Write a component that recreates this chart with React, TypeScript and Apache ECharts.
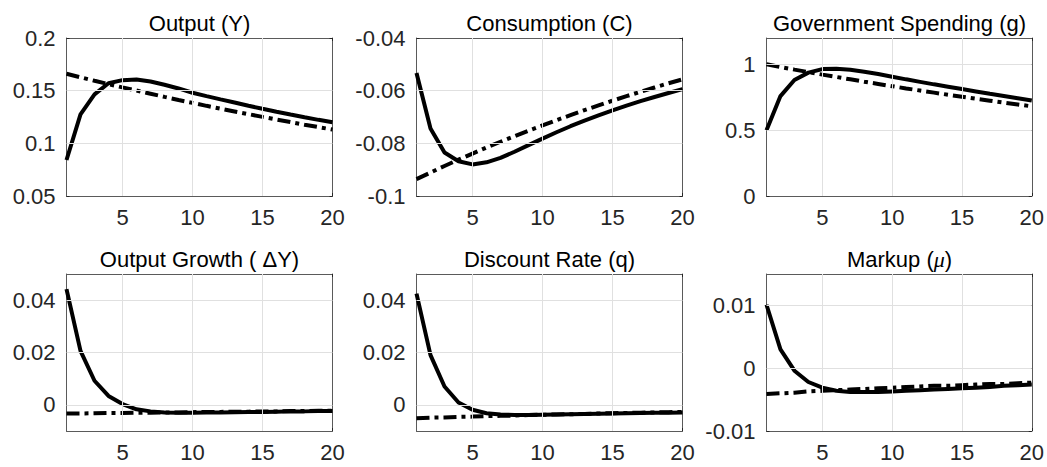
import React, { useEffect, useRef } from "react";
import * as echarts from "echarts";

const periods = [1, 2, 3, 4, 5, 6, 7, 8, 9, 10, 11, 12, 13, 14, 15, 16, 17, 18, 19, 20];
const xTicks = [5, 10, 15, 20];

const outputSolid = [0.0842, 0.1275, 0.1465, 0.157, 0.16, 0.1606, 0.1587, 0.1556, 0.1521, 0.148, 0.1448, 0.1417, 0.1387, 0.1357, 0.1328, 0.13, 0.1273, 0.1247, 0.1223, 0.12];
const outputDashed = [0.166, 0.1627, 0.1594, 0.1562, 0.1531, 0.1501, 0.1471, 0.1441, 0.1412, 0.1384, 0.1356, 0.1329, 0.1303, 0.1277, 0.1251, 0.1226, 0.1202, 0.1177, 0.1154, 0.1131];
const outputTicks = [0.05, 0.1, 0.15, 0.2];

const consumptionSolid = [-0.0533, -0.0744, -0.0835, -0.0868, -0.088, -0.0872, -0.0855, -0.0832, -0.0807, -0.0782, -0.0758, -0.0735, -0.0714, -0.0694, -0.0675, -0.0657, -0.064, -0.0624, -0.0609, -0.0594];
const consumptionDashed = [-0.0936, -0.0911, -0.0886, -0.0862, -0.0839, -0.0816, -0.0794, -0.0773, -0.0752, -0.0732, -0.0712, -0.0693, -0.0674, -0.0656, -0.0638, -0.0621, -0.0604, -0.0588, -0.0572, -0.0557];
const consumptionTicks = [-0.1, -0.08, -0.06, -0.04];

const govSolid = [0.5, 0.759, 0.881, 0.937, 0.964, 0.967, 0.959, 0.944, 0.926, 0.906, 0.886, 0.867, 0.848, 0.83, 0.812, 0.794, 0.776, 0.759, 0.742, 0.725];
const govDashed = [1.0, 0.98, 0.96, 0.941, 0.922, 0.904, 0.886, 0.868, 0.851, 0.834, 0.817, 0.801, 0.785, 0.769, 0.754, 0.739, 0.724, 0.709, 0.695, 0.681];
const govTicks = [0, 0.5, 1];

const growthSolid = [0.0442, 0.0206, 0.0092, 0.0034, 0.0003, -0.0017, -0.0025, -0.0029, -0.003, -0.003, -0.0029, -0.0029, -0.0028, -0.0027, -0.0027, -0.0026, -0.0025, -0.0025, -0.0024, -0.0024];
const growthDashed = [-0.0033, -0.0033, -0.0032, -0.0031, -0.0031, -0.003, -0.003, -0.0029, -0.0029, -0.0028, -0.0027, -0.0027, -0.0026, -0.0026, -0.0025, -0.0025, -0.0024, -0.0024, -0.0023, -0.0023];
const growthTicks = [0, 0.02, 0.04];

const discountSolid = [0.0425, 0.019, 0.007, 0.0009, -0.0019, -0.0032, -0.0037, -0.0039, -0.0039, -0.0038, -0.0037, -0.0036, -0.0035, -0.0034, -0.0033, -0.0032, -0.0031, -0.003, -0.003, -0.0029];
const discountDashed = [-0.0051, -0.0049, -0.0048, -0.0046, -0.0045, -0.0043, -0.0042, -0.0041, -0.0039, -0.0038, -0.0037, -0.0036, -0.0035, -0.0033, -0.0032, -0.0031, -0.003, -0.0029, -0.0028, -0.0027];
const discountTicks = [0, 0.02, 0.04];

const markupSolid = [0.0101, 0.003, -0.0004, -0.0022, -0.0031, -0.0036, -0.0038, -0.0038, -0.0038, -0.0037, -0.0036, -0.0035, -0.0034, -0.0033, -0.0032, -0.0031, -0.003, -0.0028, -0.0027, -0.0026];
const markupDashed = [-0.0041, -0.004, -0.0039, -0.0037, -0.0036, -0.0035, -0.0034, -0.0033, -0.0032, -0.0031, -0.003, -0.0029, -0.0028, -0.0028, -0.0027, -0.0026, -0.0025, -0.0025, -0.0024, -0.0023];
const markupTicks = [-0.01, 0, 0.01];

// "{m|...}" marks the TeX-italic math symbol
const titles = ["Output (Y)", "Consumption (C)", "Government Spending (g)", "Output Growth ( ΔY)", "Discount Rate (q)", "Markup ({m|μ})"];

const panels = [
  { title: titles[0], solid: outputSolid, dashed: outputDashed, yMin: 0.05, yMax: 0.2, yTicks: outputTicks },
  { title: titles[1], solid: consumptionSolid, dashed: consumptionDashed, yMin: -0.1, yMax: -0.04, yTicks: consumptionTicks },
  { title: titles[2], solid: govSolid, dashed: govDashed, yMin: 0, yMax: 1.2, yTicks: govTicks },
  { title: titles[3], solid: growthSolid, dashed: growthDashed, yMin: -0.01, yMax: 0.05, yTicks: growthTicks },
  { title: titles[4], solid: discountSolid, dashed: discountDashed, yMin: -0.01, yMax: 0.05, yTicks: discountTicks },
  { title: titles[5], solid: markupSolid, dashed: markupDashed, yMin: -0.01, yMax: 0.015, yTicks: markupTicks },
];

const FONT = "'Liberation Sans', Arial, Helvetica, sans-serif";

function buildOption() {
  const colLeft = [66.5, 416.5, 766.5];
  const rowTop = [38, 274];
  const rowHeight = [158, 157];
  const titleY = [23, 259.5];
  const width = 266;
  const grids: any[] = [];
  const xAxes: any[] = [];
  const yAxes: any[] = [];
  const series: any[] = [];
  const graphics: any[] = [];
  const boxLine = { show: true, onZero: false, lineStyle: { color: "#5a5a5a", width: 1 } };
  const tickCommon = { show: true, inside: true, length: 3, lineStyle: { color: "#262626", width: 1 } };
  const labelCommon = { color: "#262626", fontSize: 22, fontFamily: FONT, showMinLabel: true, showMaxLabel: true };

  panels.forEach((p, i) => {
    const col = i % 3;
    const row = Math.floor(i / 3);
    const left = colLeft[col];
    const top = rowTop[row];
    const height = rowHeight[row];
    grids.push({ left, top, width, height, show: false });

    xAxes.push({
      type: "value", gridIndex: i, min: 1, max: 20, position: "bottom",
      axisLine: boxLine,
      axisTick: { ...tickCommon, customValues: xTicks },
      axisLabel: { ...labelCommon, customValues: xTicks, margin: 10, formatter: (v: number) => String(v) },
      splitLine: { show: false },
    });
    xAxes.push({
      type: "value", gridIndex: i, min: 1, max: 20, position: "top",
      axisLine: boxLine,
      axisTick: { ...tickCommon, customValues: xTicks },
      axisLabel: { show: false },
      splitLine: { show: false },
    });
    yAxes.push({
      type: "value", gridIndex: i, min: p.yMin, max: p.yMax, position: "left",
      axisLine: boxLine,
      axisTick: { ...tickCommon, customValues: p.yTicks },
      axisLabel: { ...labelCommon, customValues: p.yTicks, margin: 11, formatter: (v: number) => String(v) },
      splitLine: { show: false },
    });
    yAxes.push({
      type: "value", gridIndex: i, min: p.yMin, max: p.yMax, position: "right",
      axisLine: boxLine,
      axisTick: { ...tickCommon, customValues: p.yTicks },
      axisLabel: { show: false },
      splitLine: { show: false },
    });

    // light grid lines at the tick values
    series.push({
      type: "line", name: "grid " + i, xAxisIndex: 2 * i, yAxisIndex: 2 * i,
      data: [], silent: true, z: 1,
      markLine: {
        silent: true, symbol: "none", animation: false,
        label: { show: false },
        lineStyle: { color: "#e0e0e0", width: 1, type: "solid" },
        emphasis: { disabled: true },
        data: [
          ...xTicks.filter((v) => v < 20).map((v) => ({ xAxis: v })),
          ...p.yTicks.filter((v) => v > p.yMin && v < p.yMax).map((v) => ({ yAxis: v })),
        ],
      },
    });

    series.push({
      type: "line", name: "solid " + i, xAxisIndex: 2 * i, yAxisIndex: 2 * i,
      data: periods.map((x, j) => [x, p.solid[j]]),
      symbol: "none", showSymbol: false,
      lineStyle: { color: "#000000", width: 4, type: "solid" },
      z: 3,
    });
    series.push({
      type: "line", name: "dashed " + i, xAxisIndex: 2 * i, yAxisIndex: 2 * i,
      data: periods.map((x, j) => [x, p.dashed[j]]),
      symbol: "none", showSymbol: false,
      lineStyle: { color: "#000000", width: 4, type: [13, 5, 4, 5] },
      z: 3,
    });

    graphics.push({
      type: "text",
      x: left + width / 2,
      y: titleY[row],
      style: {
        text: p.title,
        fill: "#000000",
        fontSize: 22,
        fontFamily: FONT,
        align: "center",
        verticalAlign: "middle",
        rich: {
          m: { fontSize: 22, fontStyle: "italic", fontFamily: "'Liberation Serif', 'DejaVu Serif', serif", fill: "#000000" },
        },
      },
    });
  });

  return {
    animation: false,
    backgroundColor: "#ffffff",
    grid: grids,
    xAxis: xAxes,
    yAxis: yAxes,
    series,
    graphic: graphics,
  };
}

export default function App() {
  const ref = useRef<HTMLDivElement>(null);
  useEffect(() => {
    document.body.style.margin = "0";
    if (!ref.current) return;
    const chart = echarts.init(ref.current, undefined, { renderer: "svg" });
    chart.setOption(buildOption());
    return () => chart.dispose();
  }, []);
  return <div ref={ref} style={{ width: 1047, height: 467 }} />;
}
